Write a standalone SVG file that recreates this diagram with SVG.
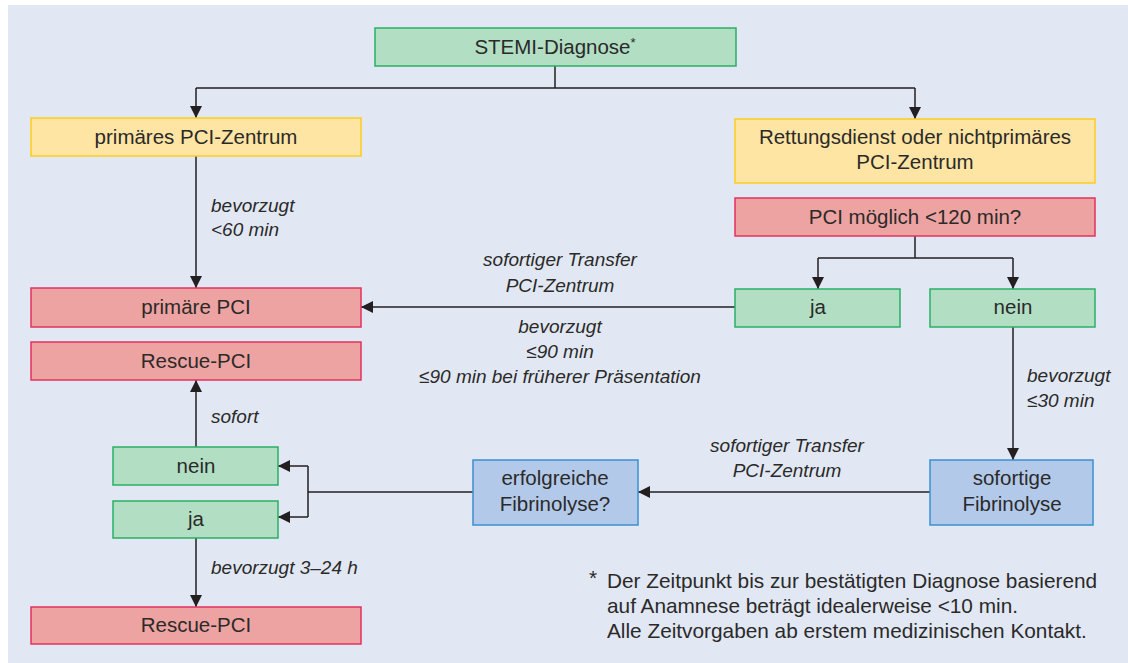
<svg xmlns="http://www.w3.org/2000/svg" width="1128" height="663" viewBox="0 0 1128 663">
<style>
.bg{fill:#e1e8f4}
.g{fill:#b2dec4;stroke:#2aae66;stroke-width:1.5}
.y{fill:#ffe5a3;stroke:#fecb1f;stroke-width:1.5}
.r{fill:#eda3a1;stroke:#e2325f;stroke-width:1.5}
.b{fill:#b3c9e9;stroke:#3a90d1;stroke-width:1.5}
.t{font-family:"Liberation Sans",Arial,sans-serif;font-size:20.5px;fill:#2b2a29;text-anchor:middle}
.l{font-family:"Liberation Sans",Arial,sans-serif;font-size:19px;font-style:italic;fill:#2b2a29}
.f{font-family:"Liberation Sans",Arial,sans-serif;font-size:20.8px;fill:#2b2a29}
.c{fill:none;stroke:#231f20;stroke-width:1.5}
</style>
<defs>
<marker id="a" viewBox="0 0 12 12" refX="12" refY="6" markerWidth="12" markerHeight="12" markerUnits="userSpaceOnUse" orient="auto">
<path d="M0,0 L12,6 L0,12 z" fill="#231f20"/>
</marker>
</defs>
<rect class="bg" x="8" y="5" width="1120" height="658"/>
<g id="connectors">
<path class="c" d="M555,66 V88"/>
<path class="c" d="M196,88 H915"/>
<path class="c" d="M196,88 V118" marker-end="url(#a)"/>
<path class="c" d="M915,88 V119" marker-end="url(#a)"/>
<path class="c" d="M196,156 V288" marker-end="url(#a)"/>
<path class="c" d="M915,236 V258 M818,258 H1013"/>
<path class="c" d="M818,258 V289" marker-end="url(#a)"/>
<path class="c" d="M1013,258 V289" marker-end="url(#a)"/>
<path class="c" d="M735,307 H361" marker-end="url(#a)"/>
<path class="c" d="M1013,327 V460" marker-end="url(#a)"/>
<path class="c" d="M930,492 H638" marker-end="url(#a)"/>
<path class="c" d="M473,492 H308 M308,466 V517"/>
<path class="c" d="M308,466 H278" marker-end="url(#a)"/>
<path class="c" d="M308,517 H278" marker-end="url(#a)"/>
<path class="c" d="M196,447 V380" marker-end="url(#a)"/>
<path class="c" d="M196,538 V607" marker-end="url(#a)"/>
</g>
<g id="stemi"><rect class="g" x="375" y="28" width="361" height="38"/><text class="t" x="555" y="54">STEMI-Diagnose<tspan font-size="13" dy="-7">*</tspan></text></g>
<g id="primaeres-zentrum"><rect class="y" x="31" y="118" width="330" height="38"/><text class="t" x="196" y="144">primäres PCI-Zentrum</text></g>
<g id="rettungsdienst"><rect class="y" x="735" y="119" width="360" height="64"/><text class="t" x="915" y="144">Rettungsdienst oder nichtprimäres</text><text class="t" x="915" y="169">PCI-Zentrum</text></g>
<g id="pci-moeglich"><rect class="r" x="735" y="198" width="360" height="38"/><text class="t" x="915" y="224">PCI möglich &lt;120 min?</text></g>
<g id="ja1"><rect class="g" x="735" y="289" width="165" height="38"/><text class="t" x="818" y="314">ja</text></g>
<g id="nein1"><rect class="g" x="930" y="289" width="165" height="38"/><text class="t" x="1013" y="314">nein</text></g>
<g id="primaere-pci"><rect class="r" x="31" y="288" width="330" height="39"/><text class="t" x="196" y="314">primäre PCI</text></g>
<g id="rescue1"><rect class="r" x="31" y="342" width="330" height="38"/><text class="t" x="196" y="368">Rescue-PCI</text></g>
<g id="nein2"><rect class="g" x="113" y="447" width="165" height="38"/><text class="t" x="196" y="473">nein</text></g>
<g id="ja2"><rect class="g" x="113" y="501" width="165" height="37"/><text class="t" x="196" y="526">ja</text></g>
<g id="rescue2"><rect class="r" x="31" y="607" width="330" height="37"/><text class="t" x="196" y="632">Rescue-PCI</text></g>
<g id="erfolgreich"><rect class="b" x="473" y="460" width="165" height="65"/><text class="t" x="555" y="485">erfolgreiche</text><text class="t" x="555" y="511">Fibrinolyse?</text></g>
<g id="sofortige"><rect class="b" x="930" y="460" width="163" height="65"/><text class="t" x="1012" y="485">sofortige</text><text class="t" x="1012" y="511">Fibrinolyse</text></g>
<g id="labels">
<text class="l" x="211" y="212">bevorzugt</text>
<text class="l" x="211" y="236">&lt;60 min</text>
<text class="l" x="560" y="266" text-anchor="middle">sofortiger Transfer</text>
<text class="l" x="560" y="292" text-anchor="middle">PCI-Zentrum</text>
<text class="l" x="560" y="333" text-anchor="middle">bevorzugt</text>
<text class="l" x="560" y="358" text-anchor="middle">≤90 min</text>
<text class="l" x="560" y="383" text-anchor="middle">≤90 min bei früherer Präsentation</text>
<text class="l" x="1027" y="382">bevorzugt</text>
<text class="l" x="1027" y="407">≤30 min</text>
<text class="l" x="211" y="423">sofort</text>
<text class="l" x="787" y="452" text-anchor="middle">sofortiger Transfer</text>
<text class="l" x="787" y="477" text-anchor="middle">PCI-Zentrum</text>
<text class="l" x="211" y="574">bevorzugt 3–24 h</text>
</g>
<g id="footnote">
<text class="f" x="589" y="585" font-size="14">*</text>
<text class="f" x="607" y="588">Der Zeitpunkt bis zur bestätigten Diagnose basierend</text>
<text class="f" x="607" y="613">auf Anamnese beträgt idealerweise &lt;10 min.</text>
<text class="f" x="607" y="638">Alle Zeitvorgaben ab erstem medizinischen Kontakt.</text>
</g>
</svg>
